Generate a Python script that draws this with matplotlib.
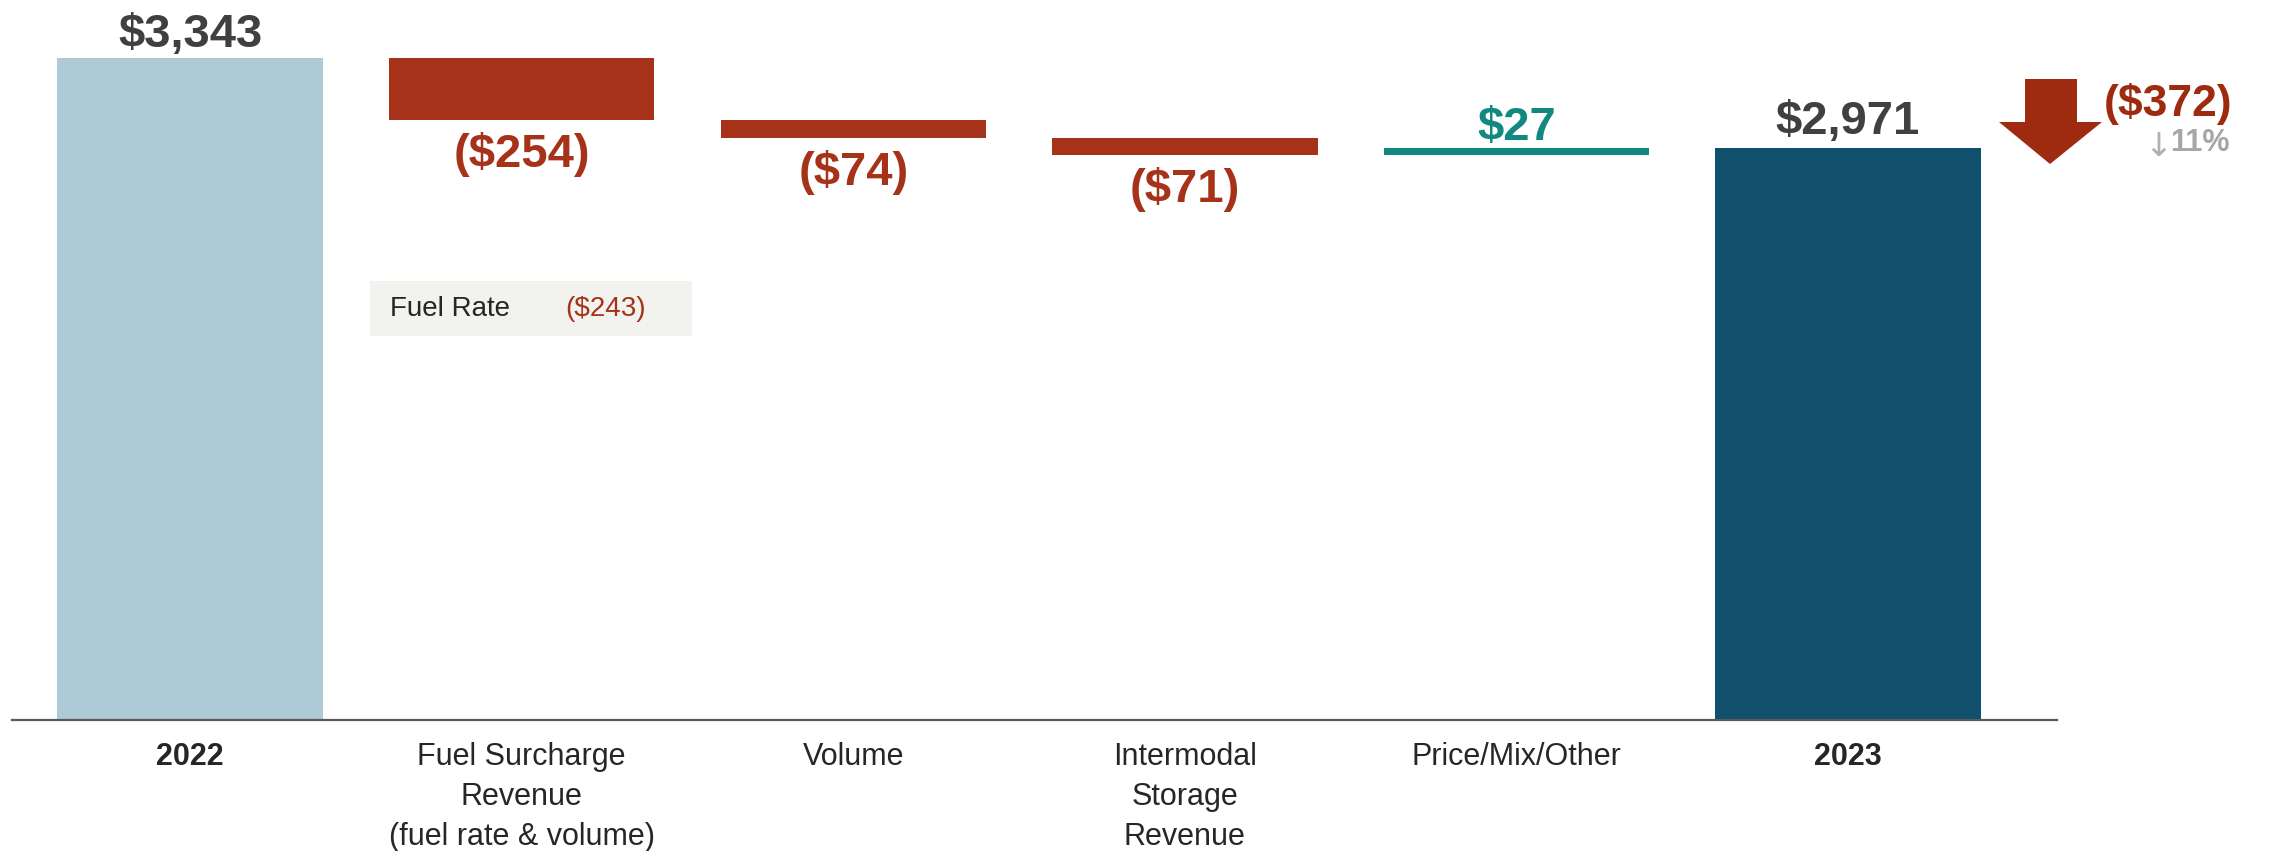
"""Freight revenue bridge 2022 -> 2023 ($M), drawn as a waterfall."""
import numpy as np
import matplotlib
matplotlib.use("Agg")
import matplotlib.pyplot as plt
from matplotlib.patches import Polygon, Rectangle

plt.rcParams["font.family"] = ["Liberation Sans", "DejaVu Sans"]

# ---- data ($ millions) ----
categories = ["2022", "Fuel Surcharge\nRevenue\n(fuel rate & volume)", "Volume",
              "Intermodal\nStorage\nRevenue", "Price/Mix/Other", "2023"]
start_total = 3343
deltas = [-254, -74, -71, 27]
fuel_rate_label = "Fuel Rate"
fuel_rate_value = -243

RED = "#a6321a"
TEAL = "#118880"
LIGHT = "#aecad6"
DARK = "#10506c"
TXT = "#404040"

W, H = 2272, 851


def px(x, y):
    """pixel position (top-left origin) -> figure fraction"""
    return x / W, 1 - y / H


def money(v):
    s = f"${abs(v):,.0f}"
    return f"({s})" if v < 0 else s


end_total = start_total + sum(deltas)

fig = plt.figure(figsize=(W / 100, H / 100), dpi=100)
ax = fig.add_axes([12 / W, (H - 720) / H, 2045 / W, 720 / H])

x = np.arange(len(categories))
bw = 0.8

# totals
ax.bar(x[0], start_total, width=bw, color=LIGHT)
ax.bar(x[-1], end_total, width=bw, color=DARK)
ax.annotate(money(start_total), (x[0], start_total), xytext=(0, 8), textcoords="offset points",
            ha="center", va="baseline", fontsize=34, fontweight="bold", color=TXT)
ax.annotate(money(end_total), (x[-1], end_total), xytext=(0, 10), textcoords="offset points",
            ha="center", va="baseline", fontsize=34, fontweight="bold", color=TXT)

# floating steps
level = start_total
for i, d in enumerate(deltas, start=1):
    lo, hi = min(level, level + d), max(level, level + d)
    col = RED if d < 0 else TEAL
    ax.bar(x[i], hi - lo, bottom=lo, width=bw, color=col)
    if d < 0:
        ax.annotate(money(d), (x[i], lo), xytext=(0, -25), textcoords="offset points",
                    ha="center", va="center", fontsize=34, fontweight="bold", color=col)
    else:
        ax.annotate(money(d), (x[i], hi), xytext=(0, 6), textcoords="offset points",
                    ha="center", va="baseline", fontsize=34, fontweight="bold", color=col)
    level += d

ax.set_xlim(-0.537, 5.63)
ax.set_ylim(607, 607 + 720 / 0.2419)

ax.set_xticks(x)
ax.set_xticklabels(categories, fontsize=22, color="#262626", linespacing=1.42)
for lab in (ax.get_xticklabels()[0], ax.get_xticklabels()[-1]):
    lab.set_fontweight("bold")
ax.tick_params(axis="x", length=0, pad=16)
ax.set_yticks([])
for s in ("top", "right", "left"):
    ax.spines[s].set_visible(False)
ax.spines["bottom"].set_color("#595959")
ax.spines["bottom"].set_linewidth(1.6)

# fuel-rate call-out box
bx0, by0 = px(370, 336)
bx1, by1 = px(692, 281)
fig.patches.append(Rectangle((bx0, by0), bx1 - bx0, by1 - by0, transform=fig.transFigure,
                             facecolor="#f2f2ee", edgecolor="none", zorder=0))
fig.text(*px(390, 309), fuel_rate_label, fontsize=20, color="#262626", va="center", ha="left")
fig.text(*px(565, 309), money(fuel_rate_value), fontsize=20, color=RED, va="center", ha="left")

# year-over-year change marker
arrow = [(2025, 79), (2077, 79), (2077, 122), (2102, 122), (2050, 164), (1999, 122), (2025, 122)]
fig.patches.append(Polygon([px(a, b) for a, b in arrow], closed=True, transform=fig.transFigure,
                           facecolor="#9e2a10", edgecolor="none"))
change = end_total - start_total
pct = change / start_total
fig.text(*px(2168, 104), money(change), fontsize=32, fontweight="bold", color="#9e2a10",
         ha="center", va="center")
fig.text(*px(2158, 146), "\u2193", fontsize=24, color="#b0b0b0", family=["DejaVu Sans"],
         ha="center", va="center")
fig.text(*px(2170, 143), f"{abs(pct):.0%}", fontsize=22, fontweight="bold", color="#a6a6a6",
         ha="left", va="center")

fig.savefig("out.png", dpi=100)
